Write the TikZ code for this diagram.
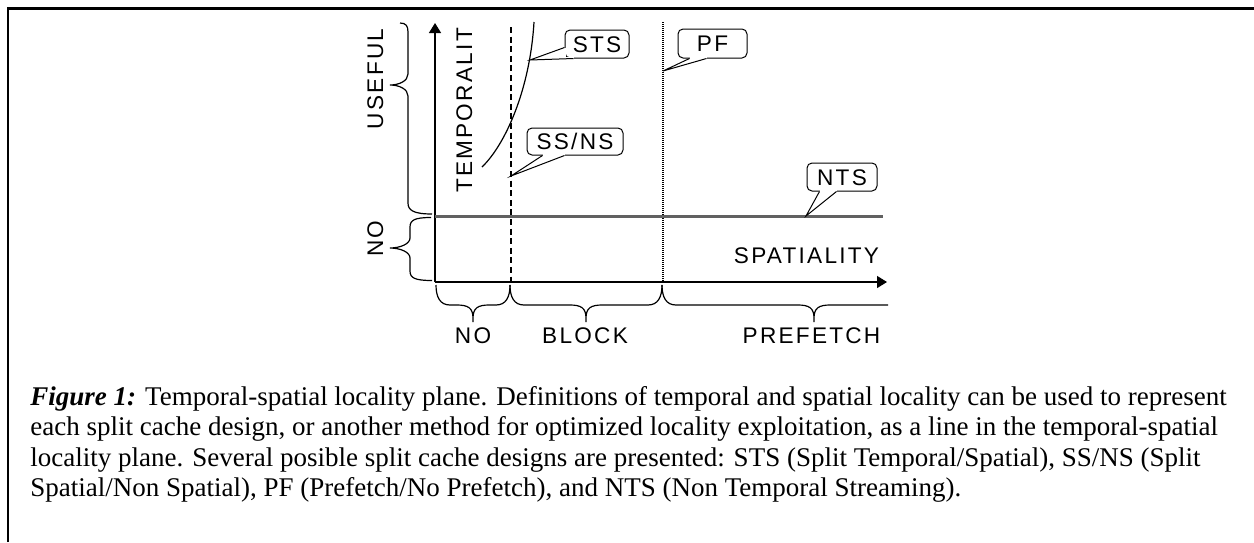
\documentclass[tikz,border=0pt]{standalone}
\usepackage{fontspec}
\setmainfont{Liberation Serif}
\newfontfamily\labfont[LetterSpace=10]{Liberation Sans}
\usetikzlibrary{arrows.meta}
\begin{document}
\begin{tikzpicture}[x=0.5pt,y=-0.5pt,
  lab/.style={font=\labfont\fontsize{11.3}{13}\selectfont, inner sep=0pt},
  axis/.style={line width=0.65pt, -{Triangle[length=5pt,width=6pt]}},
  bracestyle/.style={line width=0.6pt},
  bubble/.style={lab, draw, line width=0.5pt, fill=white, rounded corners=2.5pt,
     text height=8.1pt, text depth=0pt},
  tail/.style={line width=0.5pt, line join=miter},
  capt/.style={font=\fontsize{13.5}{15}\selectfont, inner sep=0pt, anchor=base west}]
\useasboundingbox (0,0) rectangle (1254,542);
% frame
\draw[line width=1.1pt] (8,542) -- (8,8.5) -- (1254,8.5);

% axes
\coordinate (O) at (435,282);
\coordinate (ytop) at (435,23);
\coordinate (xend) at (887,282);
\draw[axis] (O) -- (ytop);
\draw[axis] (O) -- (xend);

% design lines
\draw[line width=0.65pt, dash pattern=on 3pt off 1.8pt] (511,27) -- (511,282);
\draw[line width=0.6pt, dash pattern=on 0.5pt off 0.5pt] (663,22) -- (663,282);
\draw[line width=1.5pt, black!62] (435,216) -- (883,216);
\draw[line width=0.6pt] (482,167) .. controls (505,145) and (530,90) .. (534,22);

% axis labels
\node[lab, rotate=90, anchor=base] (temp) at (472,110.5) {TEMPORALIT};
\node[lab, anchor=base] (spat) at (806.5,263) {SPATIALITY};
\node[lab, rotate=90, anchor=base] (useful) at (383,79) {USEFUL};
\node[lab, rotate=90, anchor=base] (noy) at (383,238.5) {NO};
\node[lab, anchor=base] (nox) at (473,343) {NO};
\node[lab, anchor=base] (block) at (585,343) {BLOCK};
\node[lab, anchor=base] (pref) at (811.5,343) {PREFETCH};

% left braces
\draw[bracestyle] (400,23) .. controls (406,23) and (408,26) .. (408,32) -- (408,74)
  .. controls (408,81) and (399,85) .. (390,85) .. controls (399,85) and (408,89) .. (408,96)
  -- (408,203) .. controls (408,210) and (413,214) .. (432,214);
\draw[bracestyle] (431,217.5) .. controls (415,217.5) and (410,220) .. (410,227) -- (410,238)
  .. controls (410,244) and (400,248) .. (390,248) .. controls (400,248) and (410,252) .. (410,258)
  -- (410,271) .. controls (410,278) and (415,280.5) .. (432,280.5);

% bottom braces
\draw[bracestyle] (436,285) .. controls (436,297) and (440,305) .. (450,305) -- (457,305)
  .. controls (468,305) and (473,308) .. (473,318) -- (473,322) -- (473,318)
  .. controls (473,308) and (478,305) .. (489,305) -- (496,305)
  .. controls (506,305) and (510,297) .. (510,285);
\draw[bracestyle] (510,285) .. controls (510,297) and (514,305) .. (524,305) -- (570,305)
  .. controls (581,305) and (586,308) .. (586,318) -- (586,322) -- (586,318)
  .. controls (586,308) and (591,305) .. (602,305) -- (648,305)
  .. controls (658,305) and (662,297) .. (662,285);
\draw[bracestyle] (662,285) .. controls (662,297) and (666,305) .. (676,305) -- (798,305)
  .. controls (809,305) and (814,308) .. (814,318) -- (814,322) -- (814,318)
  .. controls (814,308) and (819,305) .. (830,305) -- (888,305);

% callouts
\node[bubble, minimum width=32pt, minimum height=14pt] (sts) at (597,44) {STS};
\node[bubble, minimum width=48pt, minimum height=13.5pt] (ssns) at (575,141.5) {SS/NS};
\node[bubble, minimum width=34.5pt, minimum height=14.5pt] (pf) at (712.5,43.5) {PF};
\node[bubble, minimum width=35pt, minimum height=14pt] (nts) at (842,177) {NTS};

\coordinate (stsTip) at (530,60);
\coordinate (ssnsTip) at (511,176);
\coordinate (pfTip) at (663,71);
\coordinate (ntsTip) at (806,216);

% STS tail (from the lower left corner)
\coordinate (s1) at ([yshift=5.5pt]sts.south west);
\coordinate (s2) at ([xshift=4.5pt]sts.south west);
\fill[white] (s1) -- (sts.south west) -- (s2) -- (stsTip) -- cycle;
\draw[white, line width=1.6pt] (s1) -- (sts.south west) -- (s2);
\draw[tail] (s1) -- (stsTip) -- (s2);

% SS/NS tail
\coordinate (n1) at ([xshift=8pt]ssns.south west);
\coordinate (n2) at ([xshift=19pt]ssns.south west);
\fill[white] (n1) -- (ssnsTip) -- (n2) -- cycle;
\draw[white, line width=1.2pt] (n1) -- (n2);
\draw[tail] (n1) -- (ssnsTip) -- (n2);

% PF tail
\coordinate (p1) at ([xshift=6pt]pf.south west);
\coordinate (p2) at ([xshift=14.5pt]pf.south west);
\fill[white] (p1) -- (pfTip) -- (p2) -- cycle;
\draw[white, line width=1.2pt] (p1) -- (p2);
\draw[tail] (p1) -- (pfTip) -- (p2);

% NTS tail
\coordinate (t1) at ([xshift=6.5pt]nts.south west);
\coordinate (t2) at ([xshift=15pt]nts.south west);
\fill[white] (t1) -- (ntsTip) -- (t2) -- cycle;
\draw[white, line width=1.2pt] (t1) -- (t2);
\draw[tail] (t1) -- (ntsTip) -- (t2);

% caption
\node[capt] (cap1) at (30,405) {\textbf{\textit{Figure 1:}} Temporal-spatial locality plane. Definitions of temporal and spatial locality can be used to represent};
\node[capt] (cap2) at (30,435.5) {each split cache design, or another method for optimized locality exploitation, as a line in the temporal-spatial};
\node[capt] (cap3) at (30,466) {locality plane. Several posible split cache designs are presented: STS (Split Temporal/Spatial), SS/NS (Split};
\node[capt] (cap4) at (30,496.5) {Spatial/Non Spatial), PF (Prefetch/No Prefetch), and NTS (Non Temporal Streaming).};
\end{tikzpicture}
\end{document}
